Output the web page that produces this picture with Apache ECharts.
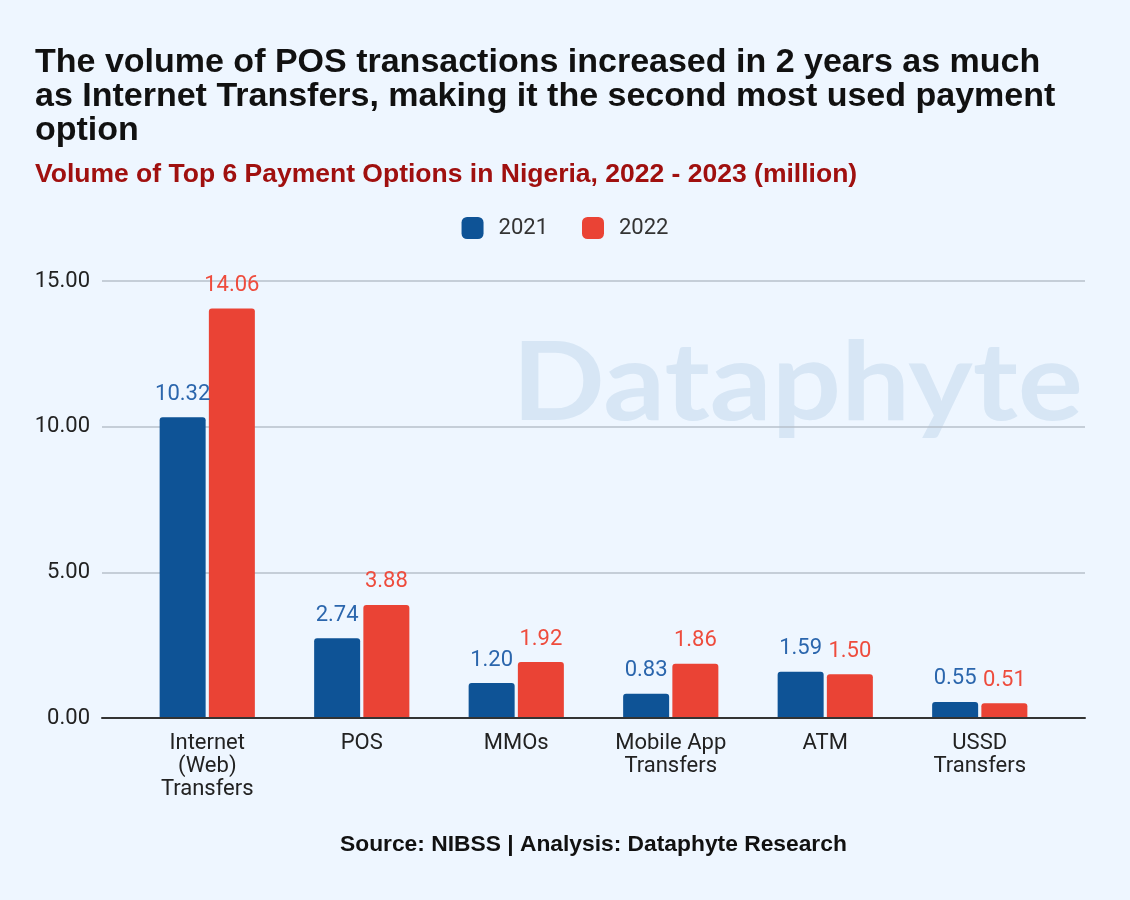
<!DOCTYPE html>
<html>
<head>
<meta charset="utf-8">
<script src="https://cdn.jsdelivr.net/npm/echarts@6/dist/echarts.min.js"></script>
<style>
html,body{margin:0;padding:0;background:#eef6ff;}
#chart{width:1130px;height:900px;}
</style>
</head>
<body>
<div id="chart"></div>
<script>
const categories = ['Internet\n(Web)\nTransfers', 'POS', 'MMOs', 'Mobile App\nTransfers', 'ATM', 'USSD\nTransfers'];
const series2021 = [10.32, 2.74, 1.20, 0.83, 1.59, 0.55];
const series2022 = [14.06, 3.88, 1.92, 1.86, 1.50, 0.51];
const seriesNames = ['2021', '2022'];
const yTicks = [0, 5, 10, 15];

const titleText = 'The volume of POS transactions increased in 2 years as much\nas Internet Transfers, making it the second most used payment\noption';
const subtitleText = 'Volume of Top 6 Payment Options in Nigeria, 2022 - 2023 (million)';
const sourceText = 'Source: NIBSS | Analysis: Dataphyte Research';

const BLUE = '#0e5396';
const RED = '#ea4335';
const BLUE_LBL = '#2b66ad';
const RED_LBL = '#ee4c3d';

const chart = echarts.init(document.getElementById('chart'));
const option = {
  backgroundColor: '#eef6ff',
  textStyle: {fontFamily: 'Roboto'},
  graphic: [{
    type: 'text', x: 512, y: 330, scaleX: 1.11, z: -10, silent: true,
    style: {text: 'Dataphyte', fill: '#d7e6f5', font: 'bold 110px Lato', textVerticalAlign: 'top'}
  }],
  title: [{
    text: titleText, left: 30, top: 41,
    textStyle: {fontFamily: 'Liberation Sans', fontWeight: 'bold', fontSize: 34, lineHeight: 34, color: '#111'}
  }, {
    text: subtitleText, left: 30, top: 156,
    textStyle: {fontFamily: 'Liberation Sans', fontWeight: 'bold', fontSize: 26.5, color: '#a0100f'}
  }, {
    text: sourceText, left: 335, top: 828,
    textStyle: {fontFamily: 'Liberation Sans', fontWeight: 'bold', fontSize: 22.8, color: '#111'}
  }],
  legend: {
    data: seriesNames, top: 212, left: 'center',
    itemWidth: 22, itemHeight: 22, itemGap: 34,
    icon: 'roundRect',
    textStyle: {fontSize: 22, color: '#333', padding: [0, 0, 0, 10]}
  },
  grid: [
    {left: 130, right: 73, top: 281, bottom: 182},
    {left: 102, right: 45, top: 281, bottom: 182}
  ],
  xAxis: [{
    type: 'category', gridIndex: 0, data: categories,
    axisLine: {show: false}, axisTick: {show: false},
    axisLabel: {fontSize: 22, lineHeight: 23, color: '#222', margin: 14, interval: 0}
  }, {
    type: 'value', gridIndex: 1, min: 0, max: 1, position: 'bottom',
    axisLine: {show: true, onZero: false, lineStyle: {color: '#333', width: 2}},
    axisTick: {show: false}, axisLabel: {show: false}, splitLine: {show: false}, z: 5
  }],
  yAxis: [{
    type: 'value', gridIndex: 0, min: yTicks[0], max: yTicks[yTicks.length - 1], interval: 5,
    show: false
  }, {
    type: 'value', gridIndex: 1, min: yTicks[0], max: yTicks[yTicks.length - 1], interval: 5,
    axisLine: {show: false}, axisTick: {show: false},
    axisLabel: {fontSize: 22, color: '#222', margin: 12, formatter: v => v.toFixed(2)},
    splitLine: {lineStyle: {color: '#b7c1cb', width: 1.5}}
  }],
  series: [{
    name: seriesNames[0], type: 'bar', xAxisIndex: 0, yAxisIndex: 0,
    data: series2021, barWidth: 46, barGap: '7%',
    itemStyle: {color: BLUE, borderRadius: [3, 3, 0, 0]},
    label: {show: true, position: 'top', distance: 12, fontSize: 22, color: BLUE_LBL, formatter: p => p.value.toFixed(2)}
  }, {
    name: seriesNames[1], type: 'bar', xAxisIndex: 0, yAxisIndex: 0,
    data: series2022, barWidth: 46,
    itemStyle: {color: RED, borderRadius: [3, 3, 0, 0]},
    label: {show: true, position: 'top', distance: 12, fontSize: 22, color: RED_LBL, formatter: p => p.value.toFixed(2)}
  }]
};
chart.setOption(option);
</script>
</body>
</html>
